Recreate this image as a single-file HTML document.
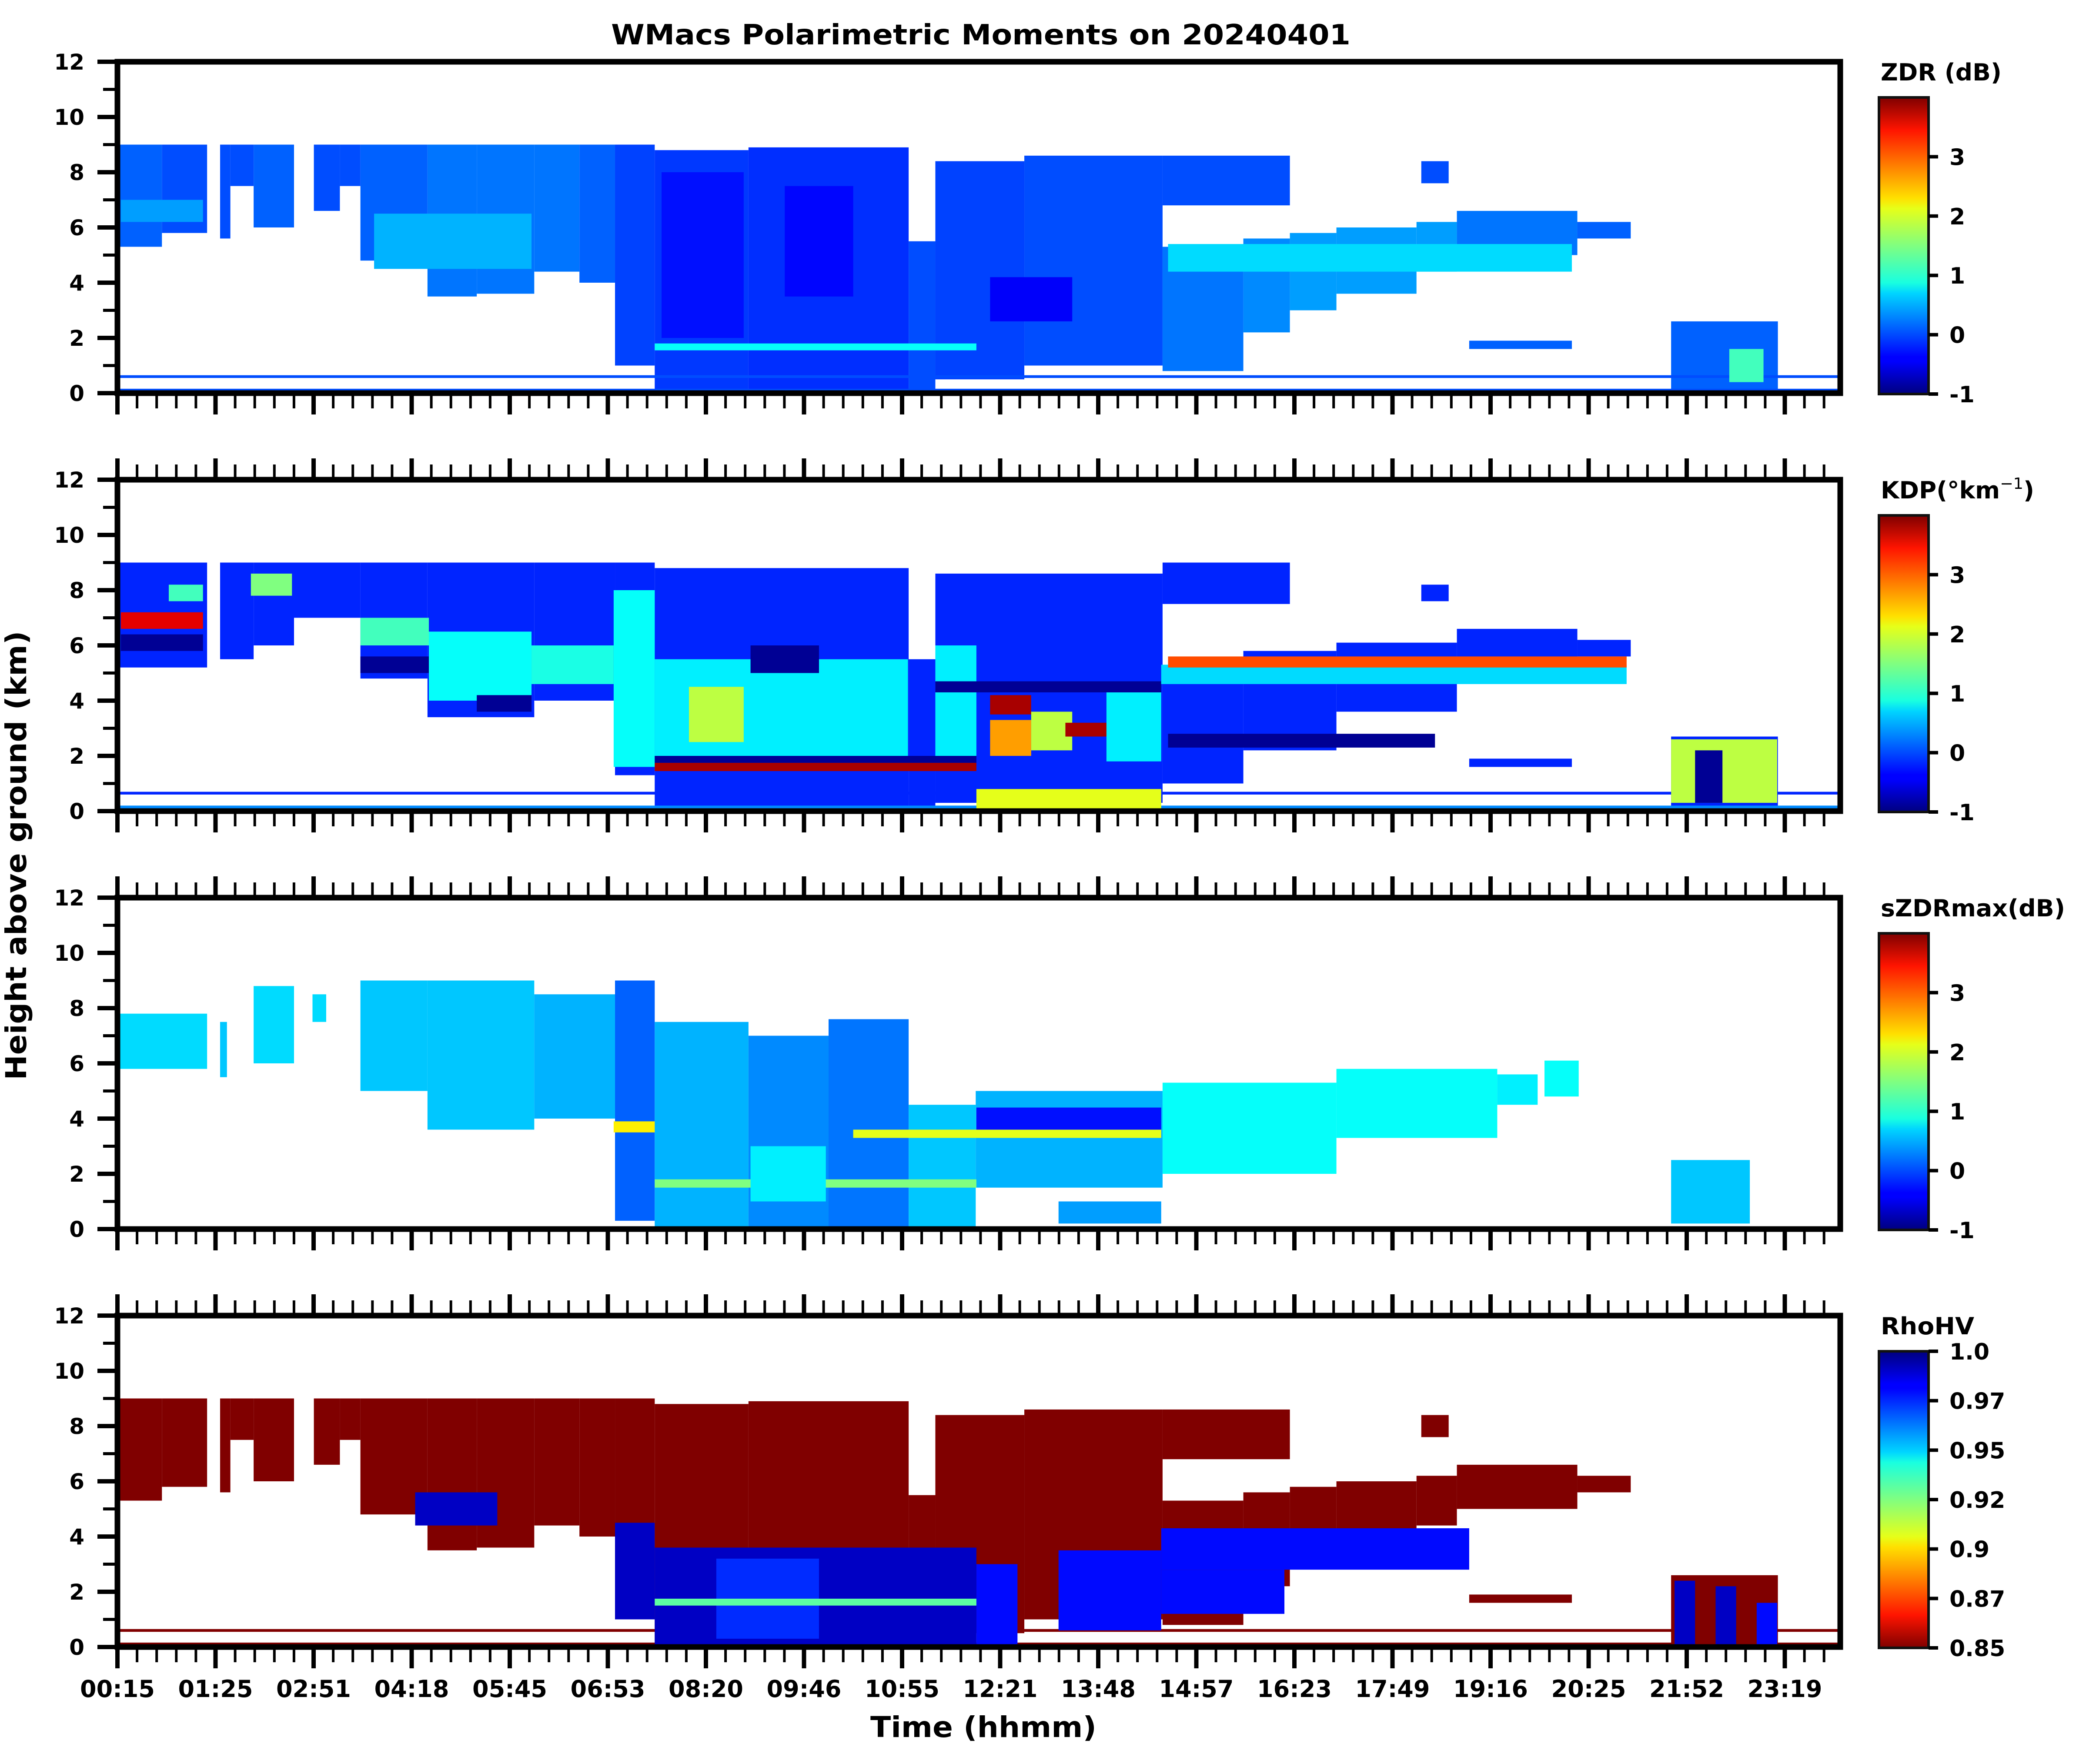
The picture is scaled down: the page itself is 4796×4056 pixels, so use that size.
<!DOCTYPE html>
<html><head><meta charset="utf-8"><style>
html,body{margin:0;padding:0;background:#fff;}
svg{display:block;}
text{font-family:"DejaVu Sans","Liberation Sans",sans-serif;font-weight:bold;fill:#000;}
</style></head><body>
<svg id="fig" width="4796" height="4056" viewBox="0 0 4796 4056" xmlns="http://www.w3.org/2000/svg">
<defs>
<linearGradient id="jetUp" x1="0" y1="1" x2="0" y2="0">
<stop offset="0" stop-color="#00007f"/><stop offset="0.11" stop-color="#0000ff"/><stop offset="0.125" stop-color="#0000ff"/><stop offset="0.34" stop-color="#00d5ff"/><stop offset="0.375" stop-color="#19ffe0"/><stop offset="0.5" stop-color="#80ff80"/><stop offset="0.625" stop-color="#e6ff19"/><stop offset="0.66" stop-color="#ffe000"/><stop offset="0.89" stop-color="#ff1400"/><stop offset="1" stop-color="#7f0000"/>
</linearGradient>
<linearGradient id="jetDown" x1="0" y1="0" x2="0" y2="1">
<stop offset="0" stop-color="#00007f"/><stop offset="0.11" stop-color="#0000ff"/><stop offset="0.125" stop-color="#0000ff"/><stop offset="0.34" stop-color="#00d5ff"/><stop offset="0.375" stop-color="#19ffe0"/><stop offset="0.5" stop-color="#80ff80"/><stop offset="0.625" stop-color="#e6ff19"/><stop offset="0.66" stop-color="#ffe000"/><stop offset="0.89" stop-color="#ff1400"/><stop offset="1" stop-color="#7f0000"/>
</linearGradient>
</defs>
<text x="2255" y="102" font-size="64" text-anchor="middle" textLength="1700" lengthAdjust="spacingAndGlyphs">WMacs Polarimetric Moments on 20240401</text>
<text transform="translate(60,1967) rotate(-90)" font-size="66" text-anchor="middle" textLength="1033" lengthAdjust="spacingAndGlyphs">Height above ground (km)</text>
<text x="2261" y="3994" font-size="66" text-anchor="middle" textLength="520" lengthAdjust="spacingAndGlyphs">Time (hhmm)</text>
</svg>
<script>
// ---- data (time in axis hours, heights in km, value in field units) ----
const xTickLabels = ["00:15","01:25","02:51","04:18","05:45","06:53","08:20","09:46","10:55","12:21","13:48","14:57","16:23","17:49","19:16","20:25","21:52","23:19"];
const yTickValues = [0,2,4,6,8,10,12];
const cbTicksMoment = [-1,0,1,2,3];
const cbTicksRho = [0.85,0.875,0.9,0.925,0.95,0.975,1.0];
const cbLabelsRho = ["0.85","0.87","0.9","0.92","0.95","0.97","1.0"];

// segments: [tStart, tEnd, base, top, value]
const zdrSegments = [
 [0.29,0.9,5.3,9,0.1],[0.9,1.56,5.8,9,0.0],[1.75,1.9,5.6,9,0],[1.9,2.24,7.5,9,0],[2.24,2.83,6,9,0.1],
 [3.12,3.5,6.6,9,0],[3.5,3.8,7.5,9,0],[3.8,4.78,4.8,9,0.1],[4.78,5.5,3.5,9,0.2],[5.5,6.34,3.6,9,0.2],
 [6.34,7.0,4.4,9,0.2],[7.0,7.52,4.0,9,0.1],[7.52,8.1,1.0,9,-0.05],[8.1,9.47,0.05,8.8,-0.1],[9.47,11.81,0.05,8.9,-0.15],
 [11.81,12.2,0.05,5.5,0],[12.2,13.5,0.5,8.4,-0.05],[13.5,15.52,1.0,8.6,0.0],[15.52,16.7,0.8,5.3,0.2],
 [16.7,17.38,2.2,5.6,0.3],[17.38,18.06,3.0,5.8,0.4],[18.06,19.23,3.6,6.0,0.4],[19.23,19.82,4.4,6.2,0.4],
 [19.82,21.58,5.0,6.6,0.2],[21.58,22.36,5.6,6.2,0.1],[15.52,17.38,6.8,8.6,0],[19.3,19.7,7.6,8.4,0],
 [20.0,21.5,1.6,1.9,0.1],[22.95,24.51,0.05,2.6,0.1],[0.29,25.4,0.55,0.65,0],[0.29,25.4,0.1,0.16,0]
];
const zdrDetail = [
 [0.3,1.5,6.2,7.0,0.4],[4.0,6.3,4.5,6.5,0.5],[8.2,9.4,2.0,8.0,-0.3],[10.0,11.0,3.5,7.5,-0.35],
 [13.0,14.2,2.6,4.2,-0.4],[15.6,21.5,4.4,5.4,0.7],[8.1,12.8,1.55,1.8,0.9],[23.8,24.3,0.4,1.6,1.2]
];
const kdpSegments = [
 [0.29,1.56,5.2,9,-0.2],[1.75,2.24,5.5,9,-0.2],[2.24,2.83,6.0,9,-0.2],[2.83,3.8,7.0,9,-0.2],
 [3.8,4.78,4.8,9,-0.2],[4.78,6.34,3.4,9,-0.2],[6.34,7.52,4.0,9,-0.2],[7.52,8.1,1.3,9,-0.2],
 [8.1,11.81,0.05,8.8,-0.2],[11.81,12.2,0.05,5.5,-0.2],[12.2,15.52,0.3,8.6,-0.2],[15.52,16.7,1.0,5.3,-0.2],
 [16.7,18.06,2.2,5.8,-0.2],[18.06,19.82,3.6,6.1,-0.2],[19.82,21.58,5.0,6.6,-0.2],[21.58,22.36,5.6,6.2,-0.2],
 [15.52,17.38,7.5,9.0,-0.2],[19.3,19.7,7.6,8.2,-0.2],[20.0,21.5,1.6,1.9,-0.2],[22.95,24.51,0.05,2.7,-0.2],
 [0.29,25.4,0.6,0.7,-0.2],[0.29,25.4,0.05,0.2,0.3]
];
const kdpDetail = [
 [0.3,1.5,6.6,7.2,3.5],[0.3,1.5,5.8,6.4,-0.9],[1.0,1.5,7.6,8.2,1.2],[2.2,2.8,7.8,8.6,1.5],
 [3.8,4.8,6.0,7.0,1.2],[3.8,4.8,5.0,5.6,-0.9],[4.8,6.3,4.0,6.5,0.9],[5.5,6.3,3.6,4.2,-0.9],
 [6.3,7.5,4.6,6.0,1.0],[7.5,8.1,1.6,8.0,0.9],[8.1,11.8,1.8,5.5,0.8],[8.6,9.4,2.5,4.5,1.8],
 [9.5,10.5,5.0,6.0,-0.9],[12.2,12.8,2.0,6.0,0.8],[13.0,13.6,3.5,4.2,3.8],[13.0,13.6,2.0,3.3,2.6],
 [13.6,14.2,2.2,3.6,1.8],[14.1,14.7,2.7,3.2,3.8],[14.7,15.5,1.8,4.3,0.8],[12.2,15.5,4.3,4.7,-0.9],
 [8.1,12.8,1.45,1.75,3.8],[8.1,12.8,1.75,2.0,-0.9],[15.5,22.3,4.6,5.3,0.7],[15.6,22.3,5.2,5.6,3.0],
 [15.6,19.5,2.3,2.8,-0.9],[22.95,24.5,0.3,2.6,1.8],[23.3,23.7,0.3,2.2,-0.9],[12.8,15.5,0.1,0.8,2.0]
];
const szdrSegments = [
 [0.29,1.56,5.8,7.8,0.7],[1.75,1.85,5.5,7.5,0.6],[2.24,2.83,6,8.8,0.7],[3.1,3.3,7.5,8.5,0.7],
 [3.8,4.78,5,9,0.6],[4.78,6.34,3.6,9,0.6],[6.34,7.52,4.0,8.5,0.5],[7.52,8.1,0.3,9,0.1],
 [8.1,9.47,0.05,7.5,0.5],[9.47,10.64,0.05,7.0,0.3],[10.64,11.81,0.05,7.6,0.2],[11.81,12.79,0.05,4.5,0.6],
 [12.79,15.52,1.5,5.0,0.5],[15.52,18.06,2.0,5.3,0.9],[18.06,20.41,3.3,5.8,0.9],[20.41,21.0,4.5,5.6,0.8],
 [21.1,21.6,4.8,6.1,0.9],[22.95,24.1,0.2,2.5,0.6],[14.0,15.5,0.2,1.0,0.4]
];
const szdrDetail = [
 [11.0,15.5,3.3,3.6,2.0],[8.1,12.8,1.5,1.8,1.5],[7.5,8.1,3.5,3.9,2.2],[9.5,10.6,1.0,3.0,0.8],[12.8,15.5,3.6,4.4,-0.3]
];
const rhoSegments = zdrSegments.map(s => [s[0],s[1],s[2],s[3],0.85]);
const rhoDetail = [
 [7.52,8.1,1.0,4.5,0.99],[8.1,12.8,0.05,3.6,0.99],[9.0,10.5,0.3,3.2,0.975],[12.8,13.4,0.05,3.0,0.98],
 [14.0,15.5,0.6,3.5,0.98],[15.5,20.0,2.8,4.3,0.98],[23.0,23.3,0.05,2.4,0.99],[23.6,23.9,0.05,2.2,0.99],
 [24.2,24.5,0.05,1.6,0.98],[4.6,5.8,4.4,5.6,0.99],
 [8.1,12.8,1.5,1.75,0.93],[15.5,17.3,1.2,2.8,0.98]
];

// ---- layout ----
const X0 = 270, X1 = 4231, T0 = 0.25, TSTEP = 1.433, TPX = 225.5 / 1.433;
const panelTops = [142, 1103, 2064, 3025];
const PH = 762;
const panels = [
 {name:"zdr", segs:zdrSegments, det:zdrDetail, vmin:-1, vmax:4, label:"ZDR (dB)", lw:278, topTicks:false},
 {name:"kdp", segs:kdpSegments, det:kdpDetail, vmin:-1, vmax:4, label:"KDP", lw:353, topTicks:true},
 {name:"szdrmax", segs:szdrSegments, det:szdrDetail, vmin:-1, vmax:4, label:"sZDRmax(dB)", lw:424, topTicks:true},
 {name:"rhohv", segs:rhoSegments, det:rhoDetail, vmin:0.85, vmax:1.0, label:"RhoHV", lw:215, topTicks:true, rev:true}
];
const NS = "http://www.w3.org/2000/svg";
const svg = document.getElementById("fig");
function mk(tag, attrs, parent){const e=document.createElementNS(NS,tag);for(const k in attrs)e.setAttribute(k,attrs[k]);(parent||svg).appendChild(e);return e;}
function xs(t){return X0 + (t - T0) * TPX;}
function jet(x){x=Math.max(0,Math.min(1,x));const c=v=>Math.round(255*Math.max(0,Math.min(1,v)));
 return "rgb("+c(1.5-Math.abs(4*x-3))+","+c(1.5-Math.abs(4*x-2))+","+c(1.5-Math.abs(4*x-1))+")";}

panels.forEach((p, i) => {
 const top = panelTops[i], bot = top + PH;
 const ys = h => bot - h * PH / 12;
 const norm = v => { let f=(v-p.vmin)/(p.vmax-p.vmin); return p.rev ? 1-f : f; };
 const g = mk("g", {});
 
 
 const clipId = "clip" + i;
 const cp = mk("clipPath", {id: clipId}, g);
 mk("rect", {x:X0, y:top, width:X1-X0, height:PH}, cp);
 const dg = mk("g", {"clip-path":"url(#"+clipId+")"}, g);
 [p.segs, p.det].forEach(arr => arr.forEach((s, k) => {
  const r = mk("rect", {x:xs(s[0]), y:ys(s[3]), width:xs(s[1])-xs(s[0]), height:ys(s[2])-ys(s[3]), fill:jet(norm(s[4]))}, dg);
  
  
 }));
 const sp = mk("rect", {x:X0, y:top, width:X1-X0, height:PH, fill:"none", stroke:"#000", "stroke-width":13}, g);
 
 
 for (let h = 0; h <= 12; h++) {
  const major = h % 2 === 0;
  mk("line", {x1:X0-(major?46:33), x2:X0, y1:ys(h), y2:ys(h), stroke:"#000", "stroke-width":major?10:7}, g);
 }
 yTickValues.forEach(v => {
  const t = mk("text", {x:194, y:ys(v)+18, "font-size":50, "text-anchor":"end"}, g);
  t.textContent = v;
  
  
 });
 for (let k = 0; ; k++) {
  const t = T0 + k * TSTEP / 5; const x = xs(t); if (x > X1 - 8) break;
  const major = k % 5 === 0, len = major ? 43 : 29, w = major ? 10 : 6;
  mk("line", {x1:x, x2:x, y1:bot+6, y2:bot+6+len, stroke:"#000", "stroke-width":w}, g);
  if (p.topTicks) mk("line", {x1:x, x2:x, y1:top-6, y2:top-6-len, stroke:"#000", "stroke-width":w}, g);
 }
 if (i === 3) {
  xTickLabels.forEach((lab, k) => {
   const t = mk("text", {x:xs(T0 + k*TSTEP), y:3902, "font-size":54, "text-anchor":"middle"}, g);
   t.textContent = lab;
   
   
  });
 }
 const cbTop = top + 82, cbBot = bot + 2, cbX = 4320, cbW = 114;
 const cb = mk("rect", {x:cbX, y:cbTop, width:cbW, height:cbBot-cbTop, fill:p.rev?"url(#jetDown)":"url(#jetUp)", stroke:"#111", "stroke-width":6}, g);
 
 
 const cy = v => { const f=(v-p.vmin)/(p.vmax-p.vmin); return cbBot - f*(cbBot-cbTop); };
 const ticks = p.rev ? cbTicksRho : cbTicksMoment;
 ticks.forEach((v, k) => {
  mk("line", {x1:cbX+cbW, x2:cbX+cbW+22, y1:cy(v), y2:cy(v), stroke:"#000", "stroke-width":8}, g);
  const t = mk("text", {x:4482, y:cy(v)+19, "font-size":52}, g);
  t.textContent = p.rev ? cbLabelsRho[k] : String(v);
  
  
 });
 const lt = mk("text", {x:4324, y:top+43, "font-size":54, textLength:p.lw, lengthAdjust:"spacingAndGlyphs"}, g);
 if (p.name === "kdp") {
  lt.textContent = "KDP(°km";
  const sup = mk("tspan", {dy:-22, "font-size":36, "font-weight":"normal"}, lt); sup.textContent = "−1";
  const cl = mk("tspan", {dy:22}, lt); cl.textContent = ")";
 } else lt.textContent = p.label;
 
 
});
</script>
</body></html>
